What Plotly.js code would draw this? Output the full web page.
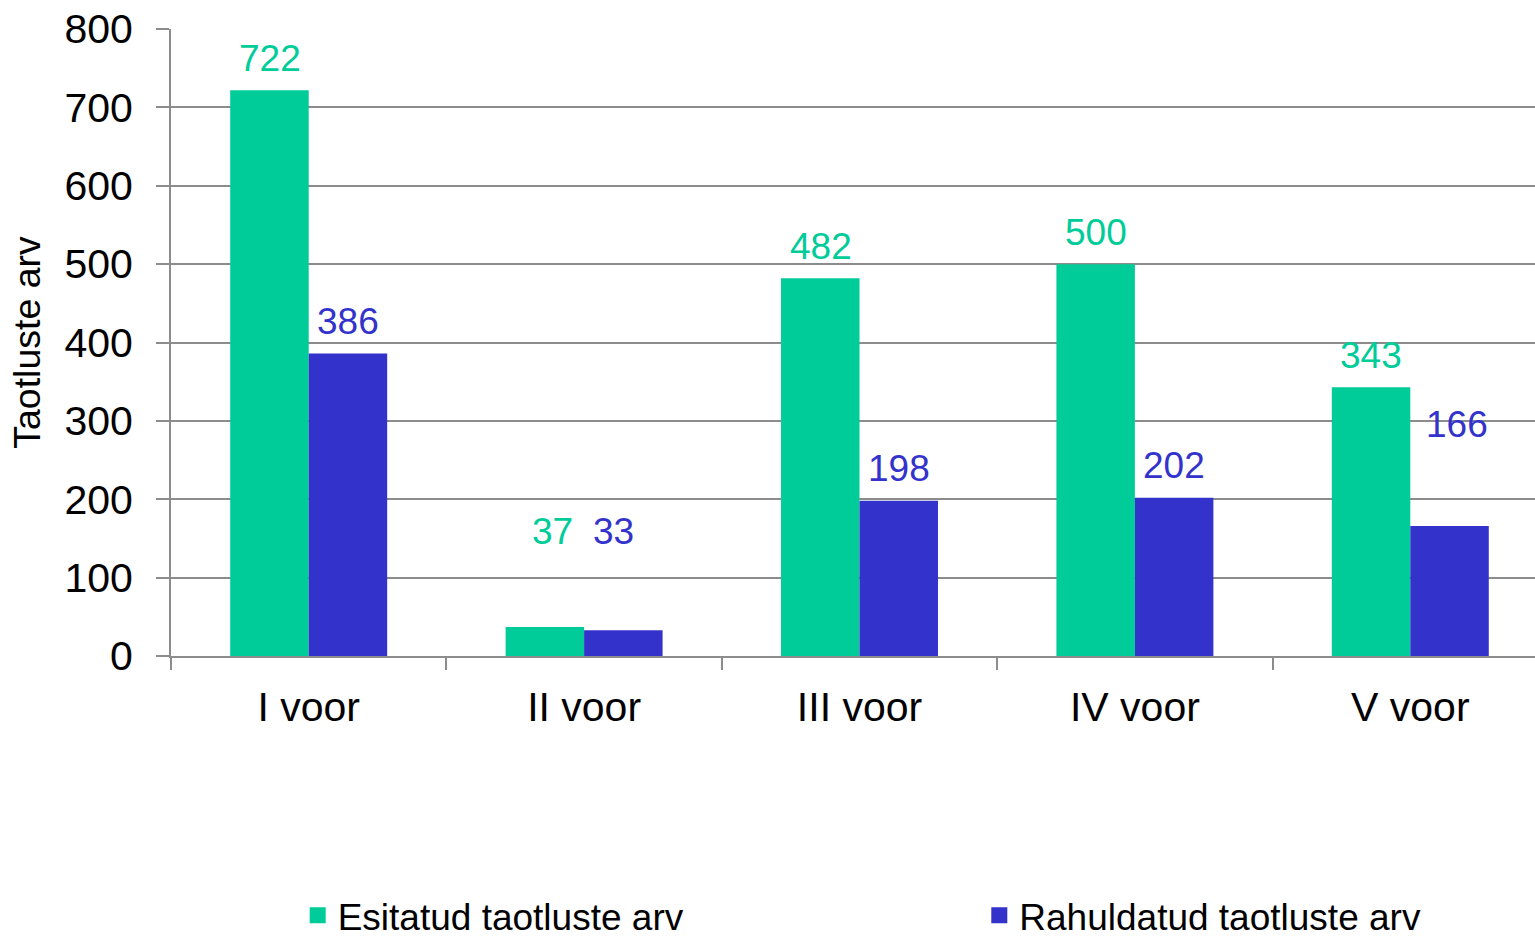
<!DOCTYPE html>
<html>
<head>
<meta charset="utf-8">
<script src="https://cdn.plot.ly/plotly-3.0.1.min.js"></script>
<style>html,body{margin:0;padding:0;background:#fff;overflow:hidden;}#chart{width:1548px;height:960px;}</style>
</head>
<body>
<div id="chart"></div>
<script>
const categories = ["I voor", "II voor", "III voor", "IV voor", "V voor"];
const esitatud = [722, 37, 482, 500, 343];
const rahuldatud = [386, 33, 198, 202, 166];
const seriesNames = ["Esitatud taotluste arv", "Rahuldatud taotluste arv"];
const yTicks = [0, 100, 200, 300, 400, 500, 600, 700, 800];

const GREEN = "#00CC99";
const BLUE = "#3333CC";
const FONT = "Liberation Sans, Arial, sans-serif";

const traces = [
  {type: "bar", name: seriesNames[0], x: categories, y: esitatud, marker: {color: GREEN}, showlegend: false, hoverinfo: "none"},
  {type: "bar", name: seriesNames[1], x: categories, y: rahuldatud, marker: {color: BLUE}, showlegend: false, hoverinfo: "none"},
  // legend entries with larger square swatches
  {type: "scatter", mode: "markers", name: seriesNames[0], x: [null], y: [null], marker: {color: GREEN, symbol: "square", size: 16}, legend: "legend", hoverinfo: "none"},
  {type: "scatter", mode: "markers", name: seriesNames[1], x: [null], y: [null], marker: {color: BLUE, symbol: "square", size: 16}, legend: "legend2", hoverinfo: "none"}
];

// label offsets (pixels) above the bar top; a few labels were moved in the original
const defaultShift = 32;
const specialShift = {"0-1": [7, 96], "1-1": [-10, 99], "1-4": [8, 101]};
const annotations = [];
[esitatud, rahuldatud].forEach((vals, s) => {
  vals.forEach((v, j) => {
    const sp = specialShift[s + "-" + j];
    annotations.push({
      x: categories[j], y: v, xref: "x", yref: "y",
      text: String(v), showarrow: false,
      xshift: (s === 0 ? -39 : 39) + (sp ? sp[0] : 0),
      yshift: sp ? sp[1] : defaultShift,
      yanchor: "middle", xanchor: "center",
      font: {family: FONT, size: 37, color: s === 0 ? GREEN : BLUE}
    });
  });
});

const layout = {
  width: 1548, height: 960,
  margin: {l: 171, r: 0, t: 29, b: 304},
  paper_bgcolor: "#fff", plot_bgcolor: "#fff",
  barmode: "group", bargap: 0.43, bargroupgap: 0,
  font: {family: FONT, color: "#000"},
  showlegend: true,
  xaxis: {
    type: "category", automargin: false,
    showline: true, linecolor: "#8c8c8c", linewidth: 2,
    ticks: "outside", tickson: "boundaries", ticklen: 12, tickcolor: "#8c8c8c", tickwidth: 2,
    tickfont: {family: FONT, size: 41, color: "#000"},
    ticklabelstandoff: 14,
    showgrid: false, zeroline: false
  },
  yaxis: {
    range: [0, 800], tickvals: yTicks, ticktext: yTicks.map(String), automargin: false,
    showline: true, linecolor: "#8c8c8c", linewidth: 2,
    ticks: "outside", ticklen: 13, tickcolor: "#8c8c8c", tickwidth: 2,
    showgrid: true, gridcolor: "#8c8c8c", gridwidth: 2,
    zeroline: false,
    tickfont: {family: FONT, size: 41, color: "#000"},
    ticklabelstandoff: 15,
    title: {text: "Taotluste arv", font: {family: FONT, size: 37.5, color: "#000"}, standoff: 12}
  },
  legend: {
    x: 0.092, y: -0.414, xanchor: "left", yanchor: "middle",
    orientation: "h", font: {family: FONT, size: 37, color: "#000"}, bgcolor: "rgba(0,0,0,0)"
  },
  legend2: {
    x: 0.587, y: -0.414, xanchor: "left", yanchor: "middle",
    orientation: "h", font: {family: FONT, size: 37, color: "#000"}, bgcolor: "rgba(0,0,0,0)"
  },
  annotations: annotations
};

Plotly.newPlot("chart", traces, layout, {displayModeBar: false, staticPlot: true});
</script>
</body>
</html>
